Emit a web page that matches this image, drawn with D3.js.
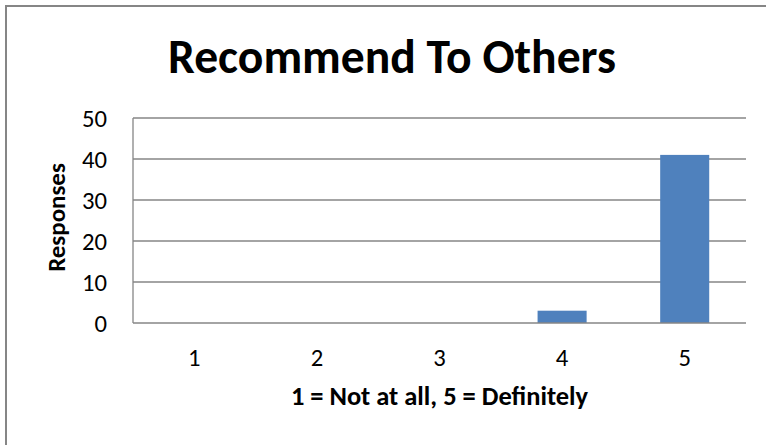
<!DOCTYPE html>
<html><head><meta charset="utf-8">
<script src="https://cdn.jsdelivr.net/npm/d3@7"></script>
<style>body{margin:0;background:#fff}svg{display:block}text{font-family:Carlito,Calibri,Lato,"Noto Sans",sans-serif;fill:#000}</style>
</head><body>
<svg id="c" width="766" height="445"></svg>
<script>
const categories = ["1","2","3","4","5"];
const responses = [0,0,0,3,41];
const yTicks = [0,10,20,30,40,50];
const title = "Recommend To Others";
const xTitle = "1 = Not at all, 5 = Definitely";
const yTitle = "Responses";

const svg = d3.select("#c");
const plot = {left:133, right:746, top:118, bottom:323};

function fit(sel, target){
  const w = sel.node().getBBox().width;
  const fs = parseFloat(sel.attr("font-size"));
  sel.attr("font-size", fs*target/w);
}

// outer chart border (cropped at right/bottom)
svg.append("path").attr("d","M6,450V6H770").attr("fill","none").attr("stroke","#868686").attr("stroke-width",2);

const x = d3.scaleBand().domain(categories).range([plot.left, plot.right]).paddingInner(0.6).paddingOuter(0.3);
const xb = d3.scaleBand().domain(categories).range([plot.left, plot.right]);
const y = d3.scaleLinear().domain([0,50]).range([plot.bottom, plot.top]);

// gridlines
svg.append("g").selectAll("line").data(yTicks.filter(d=>d>0)).join("line")
  .attr("x1",plot.left).attr("x2",plot.right)
  .attr("y1",d=>y(d)).attr("y2",d=>y(d))
  .attr("stroke","#868686").attr("stroke-width",1.3);

// bars
const bw = xb.bandwidth()/2.5;
svg.append("g").selectAll("rect").data(responses).join("rect")
  .attr("x",(d,i)=>xb(categories[i])+xb.bandwidth()/2-bw/2)
  .attr("width",bw)
  .attr("y",d=>y(d)).attr("height",d=>y(0)-y(d))
  .attr("fill","#4F81BD");

// axes lines
svg.append("line").attr("x1",plot.left).attr("x2",plot.left).attr("y1",plot.top).attr("y2",plot.bottom)
  .attr("stroke","#868686").attr("stroke-width",1.3);
svg.append("line").attr("x1",plot.left).attr("x2",plot.right).attr("y1",plot.bottom).attr("y2",plot.bottom)
  .attr("stroke","#868686").attr("stroke-width",1.3);

// y tick labels
const yl = svg.append("g").selectAll("text").data(yTicks).join("text")
  .attr("x",107).attr("y",d=>y(d)).attr("dy","0.35em").attr("text-anchor","end")
  .attr("font-size",24).text(d=>d);
const t50 = yl.filter(d=>d===50);
const w50 = t50.node().getBBox().width;
yl.attr("font-size",24*25/w50);

// x tick labels
const xl = svg.append("g").selectAll("text").data(categories).join("text")
  .attr("x",d=>xb(d)+xb.bandwidth()/2).attr("y",366).attr("text-anchor","middle")
  .attr("font-size",24*25/w50).text(d=>d);

// title
const tt = svg.append("text").attr("x",392).attr("y",73).attr("text-anchor","middle")
  .attr("font-weight","bold").attr("font-size",44).text(title);
fit(tt,448);

// x title
const xt = svg.append("text").attr("x",(plot.left+plot.right)/2).attr("y",405).attr("text-anchor","middle")
  .attr("font-weight","bold").attr("font-size",22).text(xTitle);
fit(xt,298);

// y title
const yt = svg.append("text").attr("transform",`translate(65,${(plot.top+plot.bottom)/2-3}) rotate(-90)`)
  .attr("text-anchor","middle").attr("font-weight","bold").attr("font-size",22).text(yTitle);
fit(yt,109);
</script>
</body></html>
